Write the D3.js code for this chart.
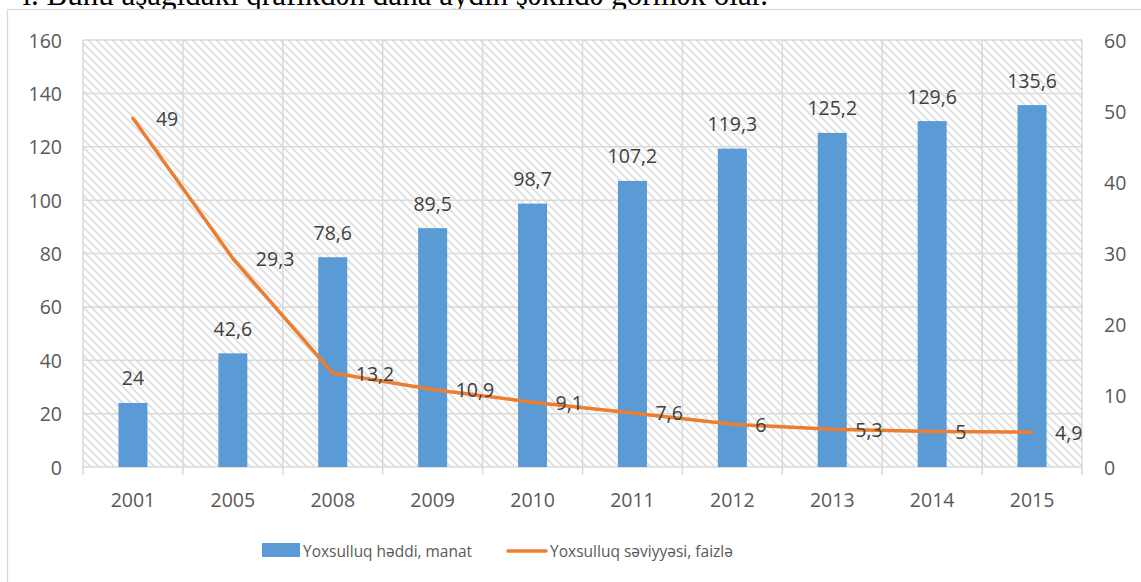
<!DOCTYPE html>
<html>
<head>
<meta charset="utf-8">
<script src="https://cdn.jsdelivr.net/npm/d3@7"></script>
<style>
  html, body { margin: 0; padding: 0; background: #fff; }
  svg { display: block; }
</style>
</head>
<body>
<svg id="chart" width="1141" height="582"></svg>
<script>
// Yoxsulluq göstəriciləri, 2001–2015
const years = ["2001", "2005", "2008", "2009", "2010", "2011", "2012", "2013", "2014", "2015"];
const povertyLine = [24, 42.6, 78.6, 89.5, 98.7, 107.2, 119.3, 125.2, 129.6, 135.6];   // manat
const povertyRate = [49, 29.3, 13.2, 10.9, 9.1, 7.6, 6, 5.3, 5, 4.9];                  // faizlə
const leftTicks = [0, 20, 40, 60, 80, 100, 120, 140, 160];
const rightTicks = [0, 10, 20, 30, 40, 50, 60];
const seriesNames = ["Yoxsulluq həddi, manat", "Yoxsulluq səviyyəsi, faizlə"];
const captionText = "ı. Bunu aşağıdakı qrafikdən daha aydın şəkildə görmək olar.";

const svg = d3.select("#chart");
const font = "'Open Sans', 'Liberation Sans', sans-serif";
const labelColor = "#595959";
const valueColor = "#404040";
const gridColor = "#d9d9d9";
const blue = "#5b9bd5";
const orange = "#ed7d31";
const numSize = 19.5;
const legendSize = 16.5;

const plot = { left: 83, right: 1082, top: 40, bottom: 467 };

const fmt = v => String(v).replace(".", ",");

// surrounding paragraph line, clipped at the top edge
svg.append("text")
  .attr("x", 768).attr("y", 5)
  .attr("text-anchor", "end")
  .attr("font-family", "'Liberation Serif', 'Times New Roman', serif")
  .attr("font-size", 31)
  .attr("fill", "#000")
  .text(captionText);

// chart frame
svg.append("rect")
  .attr("x", 7.5).attr("y", 9.5)
  .attr("width", 1200).attr("height", 700)
  .attr("fill", "#fff")
  .attr("stroke", gridColor).attr("stroke-width", 1.3);

// hatched plot background
const defs = svg.append("defs");
const pat = defs.append("pattern")
  .attr("id", "hatch")
  .attr("patternUnits", "userSpaceOnUse")
  .attr("width", 8).attr("height", 8);
pat.append("rect").attr("width", 8).attr("height", 8).attr("fill", "#fff");
pat.append("path")
  .attr("d", "M-2,-2 L10,10 M-2,6 L2,10 M6,-2 L10,2")
  .attr("stroke", "#dfdfdf").attr("stroke-width", 1.8);

const x = d3.scaleBand().domain(years).range([plot.left, plot.right]).paddingInner(0).paddingOuter(0);
const yL = d3.scaleLinear().domain([0, 160]).range([plot.bottom, plot.top]);
const yR = d3.scaleLinear().domain([0, 60]).range([plot.bottom, plot.top]);

svg.append("rect")
  .attr("x", plot.left).attr("y", plot.top)
  .attr("width", plot.right - plot.left).attr("height", plot.bottom - plot.top)
  .attr("fill", "url(#hatch)");

// grid: horizontal lines
svg.append("g").selectAll("line").data(leftTicks).join("line")
  .attr("x1", plot.left).attr("x2", plot.right)
  .attr("y1", d => yL(d)).attr("y2", d => yL(d))
  .attr("stroke", gridColor).attr("stroke-width", 1.5);

// grid: vertical category boundaries, extended below the axis as tick marks
const bounds = years.map(d => x(d)).concat([plot.right]);
svg.append("g").selectAll("line").data(bounds).join("line")
  .attr("x1", d => d).attr("x2", d => d)
  .attr("y1", plot.top).attr("y2", plot.bottom + 8)
  .attr("stroke", gridColor).attr("stroke-width", 1.5);

// left axis labels
svg.append("g").selectAll("text").data(leftTicks).join("text")
  .attr("x", 62).attr("y", d => yL(d))
  .attr("text-anchor", "end").attr("dominant-baseline", "central")
  .attr("font-family", font).attr("font-size", numSize).attr("fill", labelColor)
  .text(d => d);

// right axis labels
svg.append("g").selectAll("text").data(rightTicks).join("text")
  .attr("x", 1104).attr("y", d => yR(d))
  .attr("text-anchor", "start").attr("dominant-baseline", "central")
  .attr("font-family", font).attr("font-size", numSize).attr("fill", labelColor)
  .text(d => d);

// category labels
svg.append("g").selectAll("text").data(years).join("text")
  .attr("x", d => x(d) + x.bandwidth() / 2).attr("y", 499)
  .attr("text-anchor", "middle").attr("dominant-baseline", "central")
  .attr("font-family", font).attr("font-size", numSize).attr("fill", labelColor)
  .text(d => d);

// bars
const barW = 29;
svg.append("g").selectAll("rect").data(years).join("rect")
  .attr("x", d => x(d) + x.bandwidth() / 2 - barW / 2)
  .attr("y", (d, i) => yL(povertyLine[i]))
  .attr("width", barW)
  .attr("height", (d, i) => yL(0) - yL(povertyLine[i]))
  .attr("fill", blue);

// bar value labels
svg.append("g").selectAll("text").data(years).join("text")
  .attr("x", d => x(d) + x.bandwidth() / 2)
  .attr("y", (d, i) => yL(povertyLine[i]) - 25)
  .attr("text-anchor", "middle").attr("dominant-baseline", "central")
  .attr("font-family", font).attr("font-size", numSize).attr("fill", valueColor)
  .text((d, i) => fmt(povertyLine[i]));

// poverty rate line
const line = d3.line()
  .x((d, i) => x(years[i]) + x.bandwidth() / 2)
  .y(d => yR(d));
svg.append("path")
  .datum(povertyRate)
  .attr("d", line)
  .attr("fill", "none")
  .attr("stroke", orange).attr("stroke-width", 3.5)
  .attr("stroke-linejoin", "round").attr("stroke-linecap", "round");

// line value labels, to the right of each point
svg.append("g").selectAll("text").data(povertyRate).join("text")
  .attr("x", (d, i) => x(years[i]) + x.bandwidth() / 2 + 23)
  .attr("y", d => yR(d))
  .attr("text-anchor", "start").attr("dominant-baseline", "central")
  .attr("font-family", font).attr("font-size", numSize).attr("fill", valueColor)
  .text(d => fmt(d));

// legend
const lg = svg.append("g");
lg.append("rect").attr("x", 262).attr("y", 543).attr("width", 38).attr("height", 14).attr("fill", blue);
lg.append("text").attr("x", 303).attr("y", 550)
  .attr("dominant-baseline", "central")
  .attr("font-family", font).attr("font-size", legendSize).attr("fill", labelColor)
  .attr("textLength", 169).attr("lengthAdjust", "spacingAndGlyphs")
  .text(seriesNames[0]);
lg.append("line").attr("x1", 508).attr("x2", 546).attr("y1", 551).attr("y2", 551)
  .attr("stroke", orange).attr("stroke-width", 3.5).attr("stroke-linecap", "round");
lg.append("text").attr("x", 550).attr("y", 550)
  .attr("dominant-baseline", "central")
  .attr("font-family", font).attr("font-size", legendSize).attr("fill", labelColor)
  .attr("textLength", 183).attr("lengthAdjust", "spacingAndGlyphs")
  .text(seriesNames[1]);
</script>
</body>
</html>
